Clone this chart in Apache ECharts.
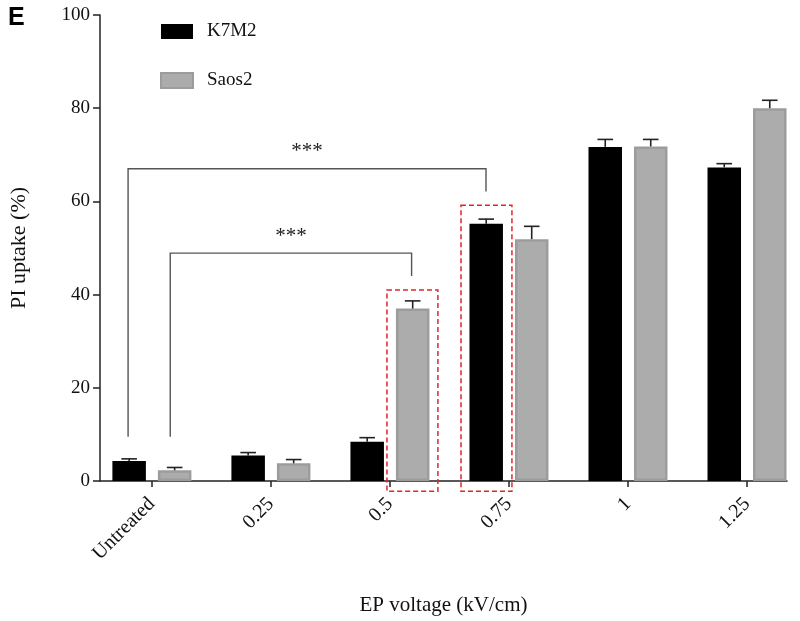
<!DOCTYPE html>
<html>
<head>
<meta charset="utf-8">
<script src="https://cdn.jsdelivr.net/npm/echarts@6/dist/echarts.min.js"></script>
<style>html,body{margin:0;padding:0;background:#fff}#c{width:800px;height:621px}</style>
</head>
<body>
<div id="c"></div>
<script>
// ---- data ----
const categories = ['Untreated', '0.25', '0.5', '0.75', '1', '1.25'];
const k7m2 = [4.3, 5.45, 8.4, 55.2, 71.7, 67.3];
const k7m2Err = [0.45, 0.65, 0.9, 1.0, 1.6, 0.8];
const saos2 = [2.3, 3.8, 37.0, 51.9, 71.8, 80.0];
const saos2Err = [0.6, 0.8, 1.65, 2.75, 1.5, 1.7];
const yTicks = [0, 20, 40, 60, 80, 100];
// significance brackets: [xLeft, xRight, yTop, yLeftBottom, yRightBottom, label]
const brackets = [
  [-0.2, 2.807, 67.0, 9.5, 62.1, '***'],
  [0.154, 2.182, 48.9, 9.5, 44.0, '***']
];
// highlight boxes: [xStart, xEnd, yTop, yBottom]
const boxes = [
  [1.975, 2.403, 41.0, -2.2],
  [2.597, 3.025, 59.2, -2.2]
];

// ---- layout constants ----
const BAR_W = 33.5, GAP_PX = 12;
const HALF_OFF = (BAR_W + GAP_PX) / 2;
const SERIF = 'Liberation Serif';

const catIdx = categories.map((c, i) => i);
const errData = [];
catIdx.forEach(i => {
  errData.push([i, k7m2[i], k7m2Err[i], 0]);
  errData.push([i, saos2[i], saos2Err[i], 1]);
});

const chart = echarts.init(document.getElementById('c'));
chart.setOption({
  animation: false,
  backgroundColor: '#fff',
  title: {
    text: 'E', left: 3, top: 1,
    textStyle: {fontFamily: 'Liberation Sans', fontWeight: 'bold', fontSize: 25, color: '#000'}
  },
  legend: {
    orient: 'vertical', left: 160, top: 22, itemWidth: 32, itemHeight: 15, itemGap: 30,
    icon: 'rect', padding: 0,
    data: ['K7M2', 'Saos2'],
    textStyle: {fontFamily: SERIF, fontSize: 19, color: '#111', padding: [0, 0, 0, 9]}
  },
  grid: {left: 99, right: 13, top: 15, bottom: 138.5},
  xAxis: {
    type: 'value', min: -0.436, max: 5.336,
    name: 'EP voltage (kV/cm)', nameLocation: 'middle', nameGap: 114,
    nameTextStyle: {fontFamily: SERIF, fontSize: 21, color: '#111'},
    axisLine: {show: true, onZero: false, lineStyle: {color: '#222', width: 1.5}},
    axisTick: {show: true, length: 6, customValues: catIdx, lineStyle: {color: '#222', width: 1.5}},
    axisLabel: {
      customValues: catIdx, rotate: 45, margin: 20,
      fontFamily: SERIF, fontSize: 20, color: '#111',
      formatter: v => categories[Math.round(v)]
    },
    splitLine: {show: false}
  },
  yAxis: {
    type: 'value', min: 0, max: 100, interval: 20,
    name: 'PI uptake (%)', nameLocation: 'middle', nameGap: 70, nameRotate: 90,
    nameTextStyle: {fontFamily: SERIF, fontSize: 22, color: '#111'},
    axisLine: {show: true, onZero: false, lineStyle: {color: '#222', width: 1.5}},
    axisTick: {show: true, length: 7, lineStyle: {color: '#222', width: 1.5}},
    axisLabel: {margin: 10, fontFamily: SERIF, fontSize: 19, color: '#111',
      formatter: v => yTicks.includes(v) ? String(v) : ''},
    splitLine: {show: false}
  },
  series: [
    {
      name: 'K7M2', type: 'bar', barWidth: BAR_W, barGap: (GAP_PX / BAR_W * 100) + '%',
      data: catIdx.map(i => [i, k7m2[i]]),
      itemStyle: {color: '#000', borderColor: '#000', borderWidth: 0}
    },
    {
      name: 'Saos2', type: 'bar', barWidth: BAR_W,
      data: catIdx.map(i => [i, saos2[i]]),
      itemStyle: {color: '#acacac', borderColor: '#9c9c9c', borderWidth: 2.5}
    },
    {
      type: 'custom', name: 'err', silent: true, z: 5,
      data: errData,
      renderItem: (params, api) => {
        const i = api.value(0), v = api.value(1), e = api.value(2), s = api.value(3);
        const x = api.coord([i, 0])[0] + (s === 0 ? -HALF_OFF : HALF_OFF);
        const yb = api.coord([i, v])[1];
        const yt = api.coord([i, v + e])[1];
        const st = {stroke: '#222', lineWidth: 1.6};
        return {type: 'group', children: [
          {type: 'line', shape: {x1: x, y1: yb, x2: x, y2: yt}, style: st},
          {type: 'line', shape: {x1: x - 7.8, y1: yt, x2: x + 7.8, y2: yt}, style: st}
        ]};
      }
    },
    {
      type: 'custom', name: 'brackets', silent: true, z: 6,
      data: brackets,
      renderItem: (params, api) => {
        const xl = api.value(0), xr = api.value(1), yt = api.value(2), ylb = api.value(3), yrb = api.value(4);
        const p1 = api.coord([xl, ylb]), p2 = api.coord([xl, yt]), p3 = api.coord([xr, yt]), p4 = api.coord([xr, yrb]);
        const label = brackets[params.dataIndex][5];
        return {type: 'group', children: [
          {type: 'polyline', shape: {points: [p1, p2, p3, p4]}, style: {stroke: '#555', lineWidth: 1.4, fill: null}},
          {type: 'text', style: {text: label, x: (p2[0] + p3[0]) / 2, y: p2[1] - 17,
            align: 'center', verticalAlign: 'middle', fontFamily: SERIF, fontSize: 21, fill: '#222'}}
        ]};
      }
    },
    {
      type: 'custom', name: 'boxes', silent: true, z: 7, clip: false,
      data: boxes,
      renderItem: (params, api) => {
        const a = api.coord([api.value(0), api.value(2)]);
        const b = api.coord([api.value(1), api.value(3)]);
        return {type: 'rect', shape: {x: a[0], y: a[1], width: b[0] - a[0], height: b[1] - a[1]},
          style: {stroke: '#e2252b', lineWidth: 1.5, lineDash: [5, 3], fill: null}};
      }
    }
  ]
});
</script>
</body>
</html>
